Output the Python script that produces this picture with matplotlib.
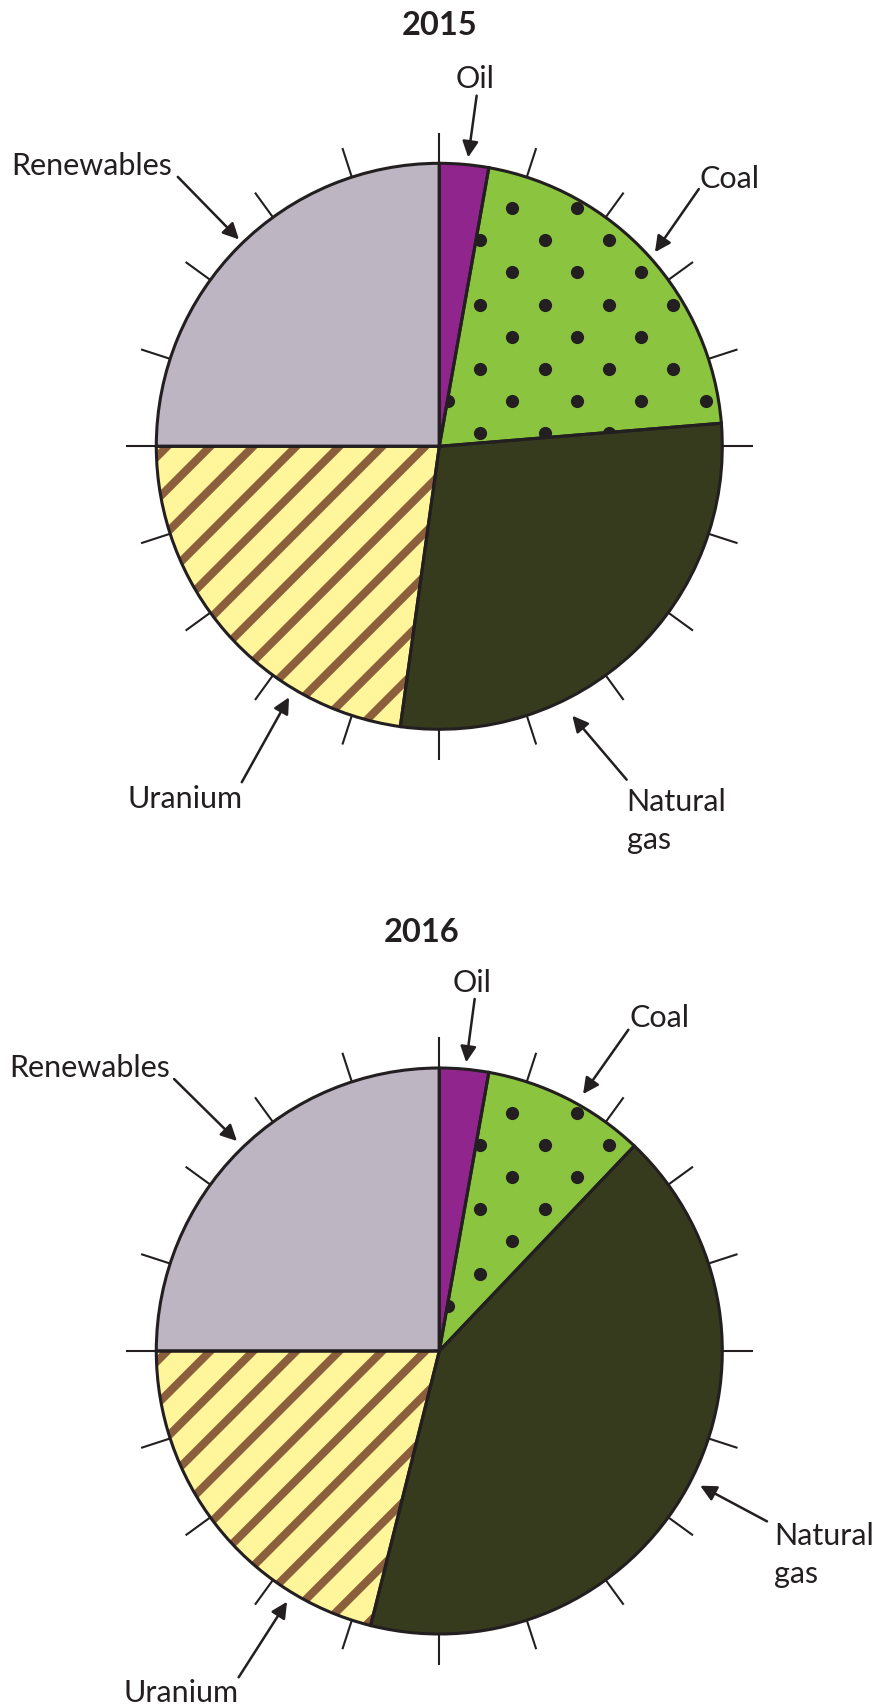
import numpy as np
import matplotlib.pyplot as plt

# shares of each source (percent), read clockwise from 12 o'clock
sources = ["Oil", "Coal", "Natural\ngas", "Uranium", "Renewables"]
share_2015 = [2.8, 20.9, 28.5, 22.8, 25.0]
share_2016 = [2.8, 9.3, 41.8, 21.1, 25.0]
years = ["2015", "2016"]

colors = ['#8f258d', '#8bc53f', '#363b1e', '#fff59b', '#bdb5c1']
ink = '#231f20'
stripe = '#8b5e3c'

plt.rcParams['font.family'] = ['Lato', 'DejaVu Sans']

W, H = 872, 1708
R = 283.0      # pie radius in pixels
CX = 439.3     # pie centre x in pixels
LINE = 38 / R  # baseline gap for two-line labels

fig = plt.figure(figsize=(W / 100, H / 100), dpi=100)

# label layout, in units of the pie radius: text (x, y, ha), arrow tail, arrow head
layout_2015 = {
    "title": (0.0, 1.457),
    "Oil": ((0.126, 1.269, 'center'), (0.132, 1.239), (0.102, 1.021)),
    "Coal": ((1.026, 0.917, 'center'), (0.917, 0.909), (0.762, 0.686)),
    "Natural\ngas": ((0.662, -1.285, 'left'), (0.662, -1.178), (0.470, -0.952)),
    "Uranium": ((-0.898, -1.276, 'center'), (-0.698, -1.187), (-0.531, -0.887)),
    "Renewables": ((-1.228, 0.962, 'center'), (-0.924, 0.952), (-0.708, 0.731)),
}
layout_2016 = {
    "title": (-0.061, 1.450),
    "Oil": ((0.116, 1.273, 'center'), (0.125, 1.244), (0.095, 1.020)),
    "Coal": ((0.778, 1.148, 'center'), (0.668, 1.135), (0.508, 0.908)),
    "Natural\ngas": ((1.184, -0.682, 'left'), (1.158, -0.602), (0.922, -0.476)),
    "Uranium": ((-0.914, -1.237, 'center'), (-0.709, -1.153), (-0.538, -0.886)),
    "Renewables": ((-1.237, 0.970, 'center'), (-0.937, 0.961), (-0.715, 0.742)),
}


def draw_pie(top, bottom, cy, shares, title, layout):
    ax = fig.add_axes([0, 1 - bottom / H, 1, (bottom - top) / H])

    fills, _ = ax.pie(shares, colors=colors, startangle=90, counterclock=False,
                      wedgeprops=dict(linewidth=0))

    # diagonal stripes on uranium
    c0, step = 14 / R, 43 / R
    xs = np.array([-1.3, 1.3])
    for c in c0 + step * np.arange(-20, 21):
        ln, = ax.plot(xs, xs + c, color=stripe, lw=5.8, solid_capstyle='butt', zorder=2)
        ln.set_clip_path(fills[3])

    # dot pattern on coal
    k, m = np.meshgrid(np.arange(-2, 12), np.arange(-2, 12))
    odd = (k + m) % 2 == 1
    sc = ax.scatter((8.6 + 32.2 * k[odd]) / R, (13 + 32.2 * m[odd]) / R,
                    s=90, color=ink, linewidths=0, zorder=2)
    sc.set_clip_path(fills[1])

    # outlines on top
    ax.pie(shares, startangle=90, counterclock=False,
           wedgeprops=dict(fill=False, edgecolor=ink, linewidth=2.2, zorder=3))

    # tick marks round the rim every 18 degrees
    for a in np.deg2rad(90 - np.arange(0, 360, 18)):
        ax.plot([np.cos(a), 1.108 * np.cos(a)], [np.sin(a), 1.108 * np.sin(a)],
                color=ink, lw=1.5, solid_capstyle='butt', zorder=3)

    tx, ty = layout["title"]
    ax.text(tx, ty, title, ha='center', va='baseline', fontsize=23.5,
            fontweight='bold', color=ink)
    for name in sources:
        (lx, ly, ha), tail, head = layout[name]
        for i, part in enumerate(name.split("\n")):
            ax.text(lx, ly - i * LINE, part, ha=ha, va='baseline', fontsize=22, color=ink)
        ax.annotate('', xy=head, xytext=tail,
                    arrowprops=dict(arrowstyle='-|>', color=ink, lw=1.8,
                                    mutation_scale=24, shrinkA=0, shrinkB=0))

    ax.set_aspect('auto')
    ax.set_xlim(-CX / R, (W - CX) / R)
    ax.set_ylim((cy - bottom) / R, (cy - top) / R)
    ax.axis('off')


draw_pie(0, 876, 447.3, share_2015, years[0], layout_2015)
draw_pie(876, H, 1352.0, share_2016, years[1], layout_2016)

fig.savefig('out.png', dpi=100)
